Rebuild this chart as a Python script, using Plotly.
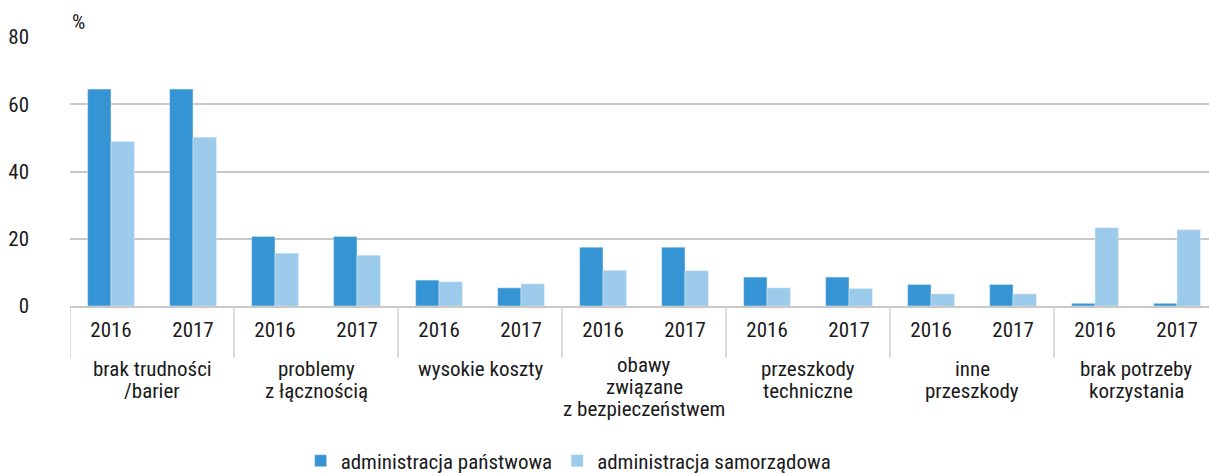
import plotly.graph_objects as go

groups = ["brak trudności<br>/barier", "problemy<br>z łącznością", "wysokie koszty",
          "obawy<br>związane<br>z bezpieczeństwem", "przeszkody<br>techniczne",
          "inne<br>przeszkody", "brak potrzeby<br>korzystania"]
years = ["2016", "2017"]
panstwowa = [64.5, 64.5, 20.7, 20.7, 7.7, 5.4, 17.5, 17.5, 8.6, 8.6, 6.4, 6.4, 0.8, 0.8]
samorzadowa = [48.9, 50.2, 15.7, 15.1, 7.2, 6.6, 10.6, 10.5, 5.4, 5.2, 3.6, 3.6, 23.3, 22.7]
series_names = ["administracja państwowa", "administracja samorządowa"]
y_ticks = [0, 20, 40, 60, 80]

FONT = "Roboto Condensed, Roboto, sans-serif"
FS = 21
TXT = "#1a1a1a"
DARK = "#3595d4"
LIGHT = "#9bcaea"
GRID = "#c8c8c8"

labels = [y for g in groups for y in years]
xs = list(range(len(labels)))

fig = go.Figure()
fig.add_trace(go.Bar(x=xs, y=panstwowa, name=series_names[0], marker_color=DARK))
fig.add_trace(go.Bar(x=xs, y=samorzadowa, name=series_names[1], marker_color=LIGHT))

W, H = 1209, 473
ml, mr, mt, mb = 70, 0, 37, 167
plot_h = H - mt - mb

annotations = [dict(text="%", x=0, xref="paper", xanchor="left", xshift=0,
                    y=1, yref="paper", yanchor="bottom", yshift=1, showarrow=False,
                    font=dict(family=FONT, size=FS, color=TXT))]
shapes = []
for gi, g in enumerate(groups):
    lines = g.split("<br>")
    first = -63 + (4 if len(lines) > 2 else 0)
    for li, line in enumerate(lines):
        annotations.append(dict(text=line, x=gi * 2 + 0.5, xref="x", xanchor="center",
                                y=0, yref="paper", yanchor="middle",
                                yshift=first - li * 22, showarrow=False,
                                font=dict(family=FONT, size=FS, color=TXT)))
    shapes.append(dict(type="line", xref="x", yref="paper", x0=gi * 2 - 0.5, x1=gi * 2 - 0.5,
                       y0=0, y1=-52 / plot_h, line=dict(color="#d0d0d0", width=1.5)))

fig.update_layout(
    width=W, height=H, margin=dict(l=ml, r=mr, t=mt, b=mb, autoexpand=False),
    paper_bgcolor="white", plot_bgcolor="white",
    barmode="group", bargap=0.43, bargroupgap=0,
    font=dict(family=FONT, size=FS, color=TXT),
    showlegend=True,
    legend=dict(orientation="h", x=0.2025, xanchor="left", y=-(461 - 306) / plot_h,
                yanchor="middle", font=dict(family=FONT, size=FS, color=TXT),
                traceorder="normal"),
    annotations=annotations, shapes=shapes,
)
fig.update_xaxes(range=[-0.5, 13.39], tickmode="array", tickvals=xs, ticktext=labels,
                 showgrid=False, zeroline=False, showline=True, linecolor=GRID, linewidth=1.5,
                 ticks="", ticklabelstandoff=4, tickfont=dict(family=FONT, size=FS, color=TXT))
fig.update_yaxes(range=[0, 80], tickvals=y_ticks, showgrid=True, gridcolor=GRID, gridwidth=1.5,
                 zeroline=False, showline=False, ticks="", ticklabelstandoff=40,
                 tickfont=dict(family=FONT, size=FS, color=TXT))

fig.write_html("out.html", config={"displayModeBar": False},
               post_script="document.body.style.margin='0';document.body.style.overflow='hidden';")
